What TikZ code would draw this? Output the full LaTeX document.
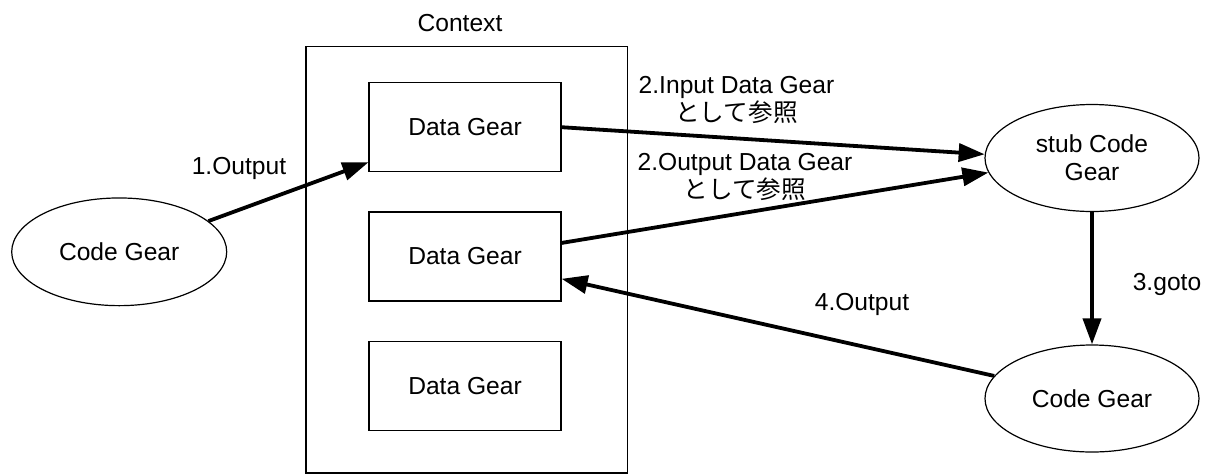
\documentclass[tikz,border=0pt]{standalone}
\usepackage{fontspec}
\setmainfont{Liberation Sans}
\newfontfamily\jpfont{Noto Sans CJK JP}
\usetikzlibrary{shapes.geometric,arrows.meta}
\begin{document}
\begin{tikzpicture}[x=1pt,y=-1pt,
  every node/.style={font=\fontsize{24.6}{28}\selectfont},
  gearbox/.style={draw,line width=1.2pt,minimum width=192pt,minimum height=89pt,inner sep=0pt},
  gear/.style={ellipse,draw,line width=1.2pt,minimum width=214pt,minimum height=107pt,inner sep=0pt,align=center},
  flow/.style={line width=3.8pt,-{Triangle[length=26pt,width=18pt]}},
  lbl/.style={anchor=base,align=center,inner sep=0pt}]
\useasboundingbox (0,0) rectangle (1208,475);
% context container
\node[draw,line width=1.2pt,minimum width=321.7pt,minimum height=426.3pt,inner sep=0pt] (ctx) at (466.85,259.85) {};
\node[lbl] (ctxlabel) at (460,31.7) {Context};
% data gears
\node[gearbox] (dg1) at (465,127.2) {Data Gear};
\node[gearbox] (dg2) at (465,256.5) {Data Gear};
\node[gearbox] (dg3) at (465,386.2) {Data Gear};
% code gears
\node[gear,minimum width=215pt,minimum height=107.7pt] (code1) at (119.2,251.8) {Code Gear};
\node[gear] (stub) at (1092,158) {stub Code\\Gear};
\node[gear] (code2) at (1092,398.5) {Code Gear};
% connectors
\draw[flow] (code1.19.8) -- (dg1.200.5);
\draw[flow] (dg1.east) -- (stub.178);
\draw[flow] (dg2.8.8) -- (stub.188);
\draw[flow] (stub.south) -- (code2.north);
\draw[flow] (code2.167.3) -- (dg2.-13.3);
% labels
\node[lbl] (l1) at (239,174.3) {1.Output};
\node[lbl] (l2a) at (736.5,121) {2.Input Data Gear\\{\jpfont として参照}};
\node[lbl] (l2b) at (745,198) {2.Output Data Gear\\{\jpfont として参照}};
\node[lbl] (l3) at (1167,290.7) {3.goto};
\node[lbl] (l4) at (862,310) {4.Output};
\end{tikzpicture}
\end{document}
